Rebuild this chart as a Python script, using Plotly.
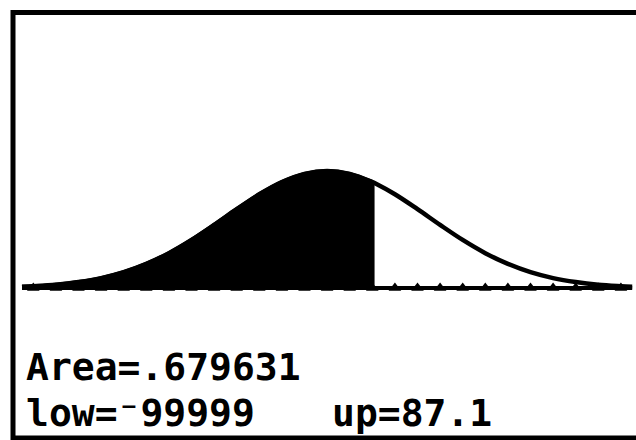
import plotly.graph_objects as go

# ---- data (normalcdf(-99999, 87.1, 85, 4.5) on a TI graph screen) ----
mu = 85
sigma = 4.5
low_label = "⁻99999"
up = 87.1
area = ".679631"
x_min = 71.5
x_max = 98.5
x_ticks = list(range(72, 99))
# density of the curve
curve_x = [71.5, 72, 73, 74, 75, 76, 77, 78, 79, 80, 81, 82, 83, 84, 85,
           86, 87, 87.1, 88, 89, 90, 91, 92, 93, 94, 95, 96, 97, 98, 98.5]
curve_y = [0.0010, 0.0014, 0.0025, 0.0045, 0.0075, 0.0120, 0.0183, 0.0264,
           0.0364, 0.0478, 0.0597, 0.0710, 0.0803, 0.0865, 0.0887,
           0.0865, 0.0803, 0.0795, 0.0710, 0.0597, 0.0478, 0.0364, 0.0264,
           0.0183, 0.0120, 0.0075, 0.0045, 0.0025, 0.0014, 0.0010]

W, H = 636, 440
shade_x = [x for x in curve_x if x <= up]
shade_y = [y for x, y in zip(curve_x, curve_y) if x <= up]

fig = go.Figure()
fig.add_trace(go.Scatter(x=shade_x, y=shade_y, mode="lines", fill="tozeroy",
                         fillcolor="black", line=dict(color="black", width=4),
                         line_shape="spline", hoverinfo="skip"))
fig.add_trace(go.Scatter(x=curve_x, y=curve_y, mode="lines",
                         line=dict(color="black", width=4.5), line_shape="spline",
                         hoverinfo="skip"))
fig.add_trace(go.Scatter(x=[x_min, x_max], y=[0, 0], mode="lines",
                         line=dict(color="black", width=4), hoverinfo="skip"))
fig.add_trace(go.Scatter(x=x_ticks, y=[0] * len(x_ticks), mode="markers",
                         marker=dict(symbol="triangle-up", size=11, color="black"),
                         hoverinfo="skip"))

# axis ranges chosen so the graph sits where it does on the screen
px_per_unit = 22.6
x0 = x_min - 22 / px_per_unit
x1 = x_min + (W - 22) / px_per_unit
py_per_unit = 1320
y1 = 288 / py_per_unit
y0 = -(H - 288) / py_per_unit

fig.update_layout(
    width=W, height=H, margin=dict(l=0, r=0, t=0, b=0),
    paper_bgcolor="white", plot_bgcolor="white", showlegend=False,
    xaxis=dict(range=[x0, x1], visible=False, fixedrange=True),
    yaxis=dict(range=[y0, y1], visible=False, fixedrange=True),
)

# screen frame
fig.add_shape(type="rect", xref="paper", yref="paper",
              x0=13 / W, x1=1.02, y0=1 - 438 / H, y1=1 - 12.5 / H,
              line=dict(color="black", width=5))

font = dict(family="DejaVu Sans Mono", size=38, color="black")
def txt(s, px, py):
    fig.add_annotation(text="<b>" + s + "</b>", xref="paper", yref="paper",
                       x=px / W, y=1 - py / H, xanchor="left", yanchor="middle",
                       showarrow=False, font=font)

txt("Area=" + area, 24, 367)
txt("low=" + low_label, 24, 413)
txt("up=" + str(up), 330, 413)

fig.write_html("out.html", config={"displayModeBar": False},
               post_script="document.body.style.margin='0';")
